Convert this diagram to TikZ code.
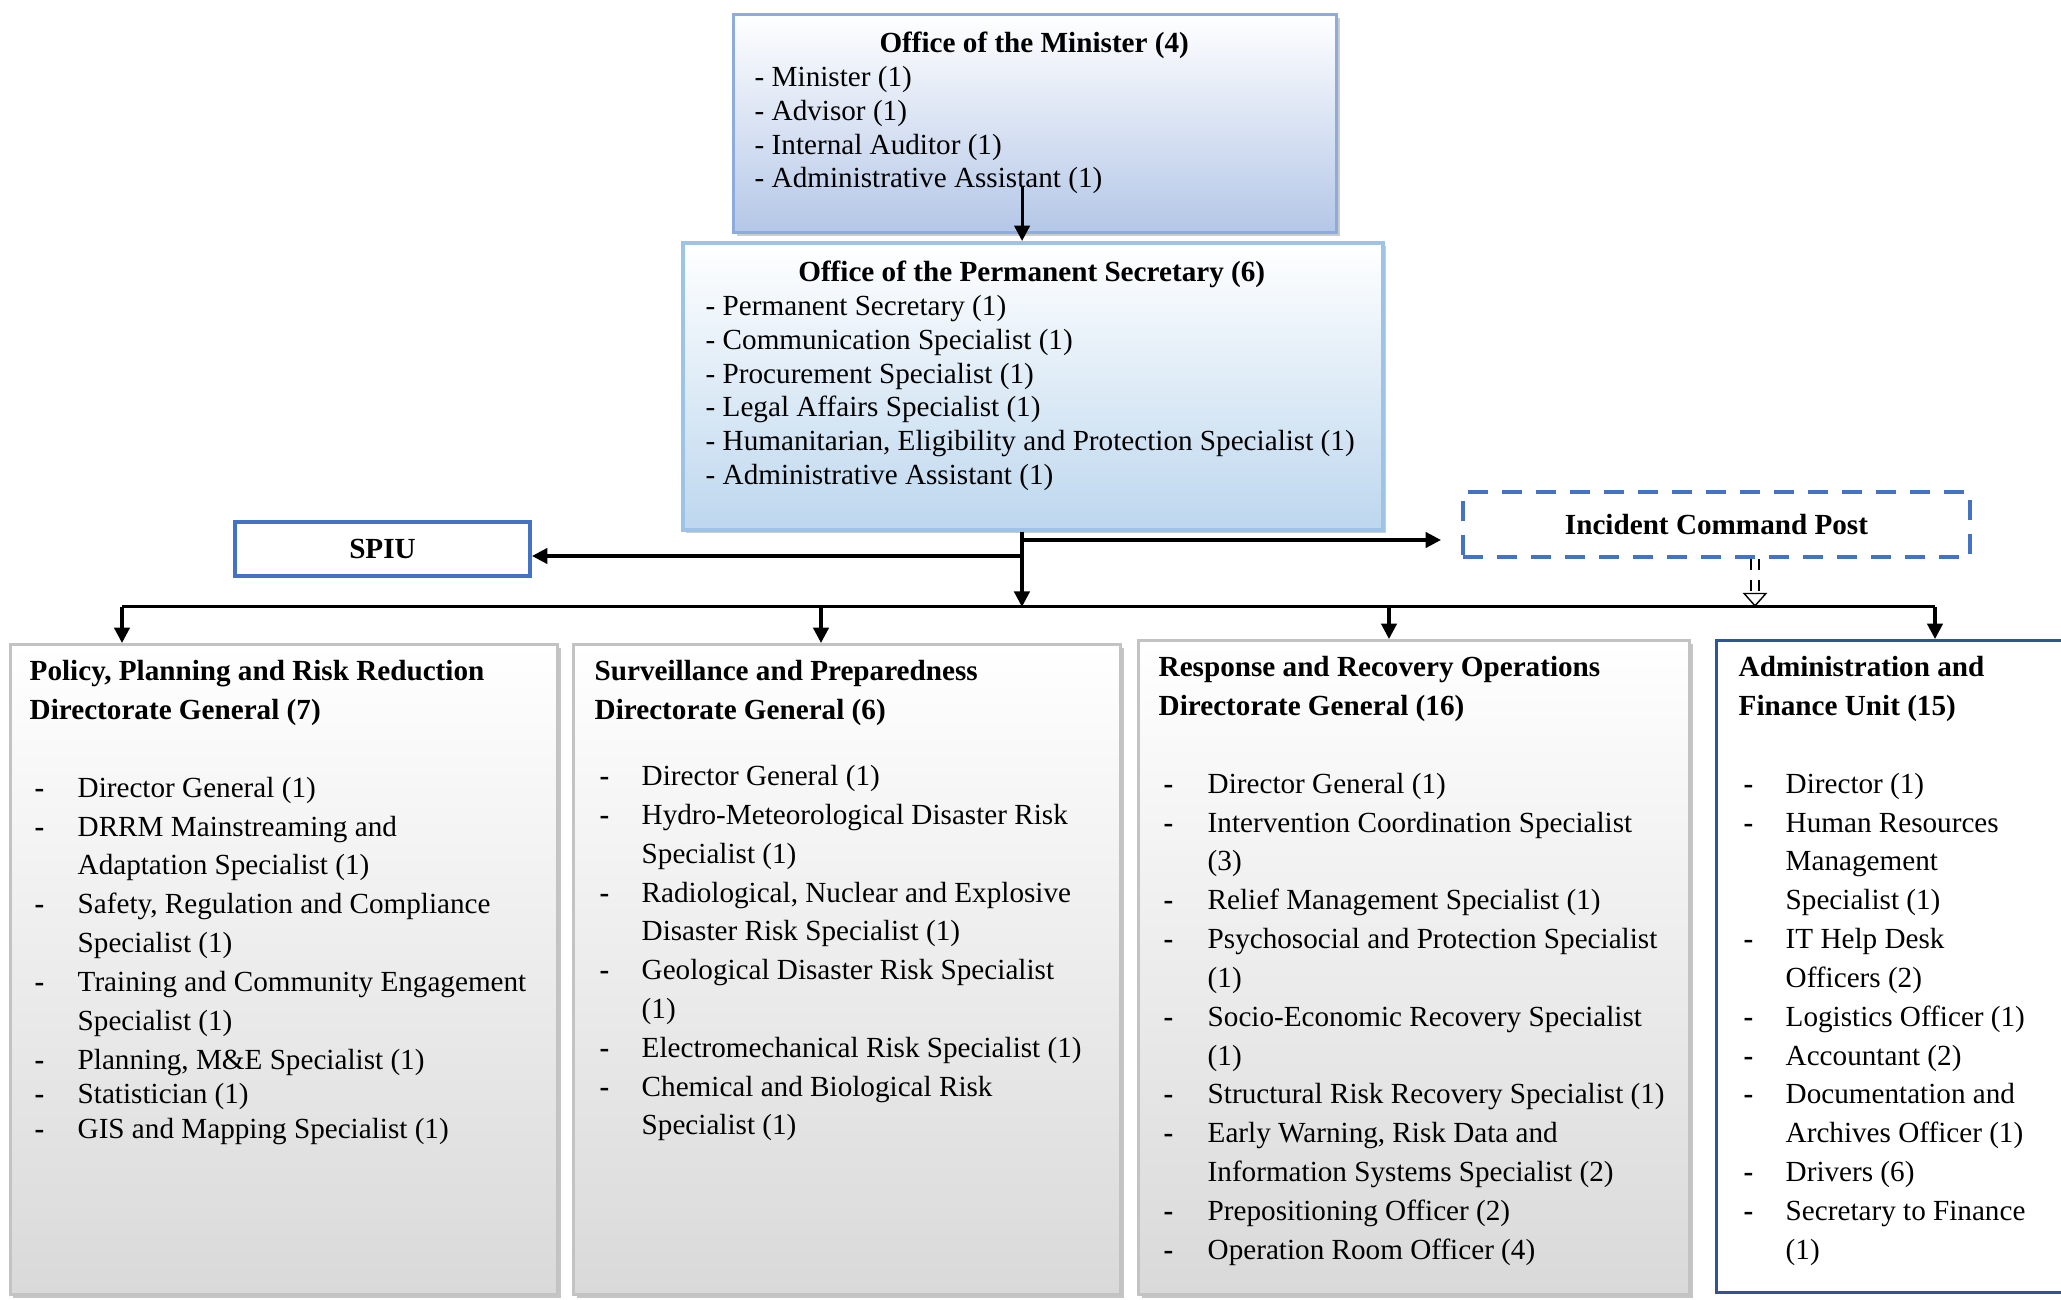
\documentclass[tikz,border=0pt]{standalone}
\usepackage{fontspec}
\setmainfont{Liberation Serif}
\usepackage{xcolor}
\usepackage{array}
\usetikzlibrary{arrows.meta,shadows}

\definecolor{minline}{HTML}{8FAADC}
\definecolor{minfill}{HTML}{B4C7E7}
\definecolor{psline}{HTML}{9DC3E6}
\definecolor{psfill}{HTML}{BDD7EE}
\definecolor{unitblue}{HTML}{4472C4}
\definecolor{afublue}{HTML}{2F5597}
\definecolor{dgline}{HTML}{C3C3C3}
\definecolor{dgfill}{HTML}{D9D9D9}

\newcommand{\topfont}{\fontsize{8.3}{9.6}\selectfont}
\newcommand{\dgfont}{\fontsize{8.3}{11.04}\selectfont}
\newcommand{\itemdash}{\hspace{0.05cm}\textbf{-}}
\newcommand{\dgtitle}[1]{\multicolumn{2}{@{}l@{}}{\bfseries #1}}

\begin{document}
\begin{tikzpicture}[
		arr/.style={line width=0.9pt,-{Triangle[length=4.4pt,width=4.4pt]}},
		busline/.style={line width=0.9pt},
		officebox/.style={anchor=north west,inner sep=0pt,top color=white,
			drop shadow={shadow xshift=0.035cm,shadow yshift=-0.035cm,fill=gray!80}},
		dgbox/.style={draw=dgline,line width=0.85pt,anchor=north west,inner sep=0pt,
			top color=white,bottom color=dgfill,
			drop shadow={shadow xshift=0.03cm,shadow yshift=-0.04cm,fill=gray!90}},
		unitbox/.style={draw=unitblue,line width=1.15pt,fill=white,inner sep=0pt,
			font=\topfont\bfseries},
		txt/.style={anchor=base west,inner sep=0pt}]
		\useasboundingbox (0,0) rectangle (20.61,-13.00);
		
		\node[officebox,draw=minline,line width=0.9pt,bottom color=minfill,
			minimum width=6.03cm,minimum height=2.18cm] (min) at (7.32,-0.13) {};
		\node[txt] (mintext) at (7.54,-0.53) {\topfont\begin{tabular}[t]{@{}p{5.59cm}@{}}
				\multicolumn{1}{@{}c@{}}{\bfseries Office of the Minister (4)}\\
				- Minister (1)\\
				- Advisor (1)\\
				- Internal Auditor (1)\\
				- Administrative Assistant (1)
			\end{tabular}};
		
		\node[officebox,draw=psline,line width=1.1pt,bottom color=psfill,
			minimum width=7.00cm,minimum height=2.87cm] (ps) at (6.81,-2.41) {};
		\node[txt] (pstext) at (7.05,-2.82) {\topfont\begin{tabular}[t]{@{}p{6.52cm}@{}}
				\multicolumn{1}{@{}c@{}}{\bfseries Office of the Permanent Secretary (6)}\\
				- Permanent Secretary (1)\\
				- Communication Specialist (1)\\
				- Procurement Specialist (1)\\
				- Legal Affairs Specialist (1)\\
				- Humanitarian, Eligibility and Protection Specialist (1)\\
				- Administrative Assistant (1)
			\end{tabular}};
		
		\coordinate (minout) at ([xshift=-0.13cm,yshift=0.47cm]min.south);
		\draw[arr] (minout) -- (minout |- ps.north);
		
		\node[unitbox,minimum width=2.95cm,minimum height=0.54cm] (spiu) at (3.825,-5.49) {SPIU};
		\node[unitbox,dash pattern=on 0.2cm off 0.14cm,minimum width=5.07cm,minimum height=0.65cm]
			(icp) at (17.165,-5.245) {Incident Command Post};
		
		\node[dgbox,minimum width=5.47cm,minimum height=6.50cm] (ppr) at (0.09,-6.43) {};
		\node[dgbox,minimum width=5.47cm,minimum height=6.50cm] (spd) at (5.72,-6.43) {};
		\node[dgbox,minimum width=5.51cm,minimum height=6.54cm] (rro) at (11.37,-6.39) {};
		\node[draw=afublue,line width=0.9pt,fill=white,anchor=north west,inner sep=0pt,
			minimum width=3.65cm,minimum height=6.52cm] (afu) at (17.15,-6.39) {};
		
		% trunk, side branches and bus
		\coordinate (trunk) at ([xshift=-0.11cm]ps.south);
		\coordinate (junc) at ([yshift=-0.75cm]trunk);
		\draw[arr] (trunk) -- (junc);
		\coordinate (spiuin) at ([yshift=-0.07cm]spiu.east);
		\draw[arr] (spiuin -| trunk) -- (spiuin);
		\coordinate (icpin) at ([xshift=-0.2cm,yshift=-0.155cm]icp.west);
		\draw[arr] (icpin -| trunk) -- (icpin);
		\coordinate (icpout) at ([xshift=0.385cm]icp.south);
		\draw[dashed,line width=0.4pt,double,double distance=1.8pt,
			-{Triangle[open,length=4pt,width=7pt]}] (icpout) -- (icpout |- junc);
		
		\coordinate (in1) at ([xshift=1.13cm]ppr.north west);
		\coordinate (in2) at ([xshift=2.49cm]spd.north west);
		\coordinate (in3) at ([xshift=2.52cm]rro.north west);
		\coordinate (in4) at ([xshift=2.20cm]afu.north west);
		\draw[busline] (in1 |- junc) -- (in4 |- junc);
		\foreach \n in {1,...,4}{
			\draw[arr] (in\n |- junc) -- (in\n);
		}
		
		\node[txt] (pprtext) at (0.29,-6.81) {\dgfont\begin{tabular}[t]{@{}p{0.48cm}@{}l@{}}
				\dgtitle{Policy, Planning and Risk Reduction}\\
				\dgtitle{Directorate General (7)}\\[0.388cm]
				\itemdash & Director General (1)\\
				\itemdash & DRRM Mainstreaming and\\
				& Adaptation Specialist (1)\\
				\itemdash & Safety, Regulation and Compliance\\
				& Specialist (1)\\
				\itemdash & Training and Community Engagement\\
				& Specialist (1)\\
				\itemdash & Planning, M\&E Specialist (1)\\[-0.045cm]
				\itemdash & Statistician (1)\\[-0.035cm]
				\itemdash & GIS and Mapping Specialist (1)
			\end{tabular}};
		
		\node[txt] (spdtext) at (5.94,-6.81) {\dgfont\begin{tabular}[t]{@{}p{0.47cm}@{}l@{}}
				\dgtitle{Surveillance and Preparedness}\\
				\dgtitle{Directorate General (6)}\\[0.27cm]
				\itemdash & Director General (1)\\
				\itemdash & Hydro-Meteorological Disaster Risk\\
				& Specialist (1)\\
				\itemdash & Radiological, Nuclear and Explosive\\
				& Disaster Risk Specialist (1)\\
				\itemdash & Geological Disaster Risk Specialist\\
				& (1)\\
				\itemdash & Electromechanical Risk Specialist (1)\\
				\itemdash & Chemical and Biological Risk\\
				& Specialist (1)
			\end{tabular}};
		
		\node[txt] (rrotext) at (11.58,-6.77) {\dgfont\begin{tabular}[t]{@{}p{0.49cm}@{}l@{}}
				\dgtitle{Response and Recovery Operations}\\
				\dgtitle{Directorate General (16)}\\[0.388cm]
				\itemdash & Director General (1)\\
				\itemdash & Intervention Coordination Specialist\\
				& (3)\\
				\itemdash & Relief Management Specialist (1)\\
				\itemdash & Psychosocial and Protection Specialist\\
				& (1)\\
				\itemdash & Socio-Economic Recovery Specialist\\
				& (1)\\
				\itemdash & Structural Risk Recovery Specialist (1)\\
				\itemdash & Early Warning, Risk Data and\\
				& Information Systems Specialist (2)\\
				\itemdash & Prepositioning Officer (2)\\
				\itemdash & Operation Room Officer (4)
			\end{tabular}};
		
		\node[txt] (afutext) at (17.38,-6.77) {\dgfont\begin{tabular}[t]{@{}p{0.47cm}@{}l@{}}
				\dgtitle{Administration and}\\
				\dgtitle{Finance Unit (15)}\\[0.388cm]
				\itemdash & Director (1)\\
				\itemdash & Human Resources\\
				& Management\\
				& Specialist (1)\\
				\itemdash & IT Help Desk\\
				& Officers (2)\\
				\itemdash & Logistics Officer (1)\\
				\itemdash & Accountant (2)\\
				\itemdash & Documentation and\\
				& Archives Officer (1)\\
				\itemdash & Drivers (6)\\
				\itemdash & Secretary to Finance\\
				& (1)
			\end{tabular}};
	\end{tikzpicture}
\end{document}
